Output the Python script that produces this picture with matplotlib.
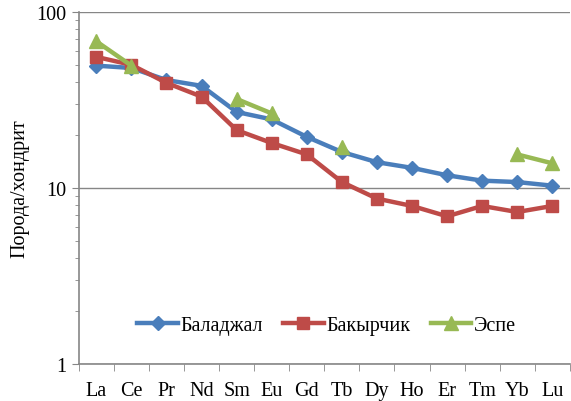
import numpy as np
import matplotlib.pyplot as plt
from matplotlib.ticker import LogLocator, NullFormatter, FixedLocator

elements = ["La", "Ce", "Pr", "Nd", "Sm", "Eu", "Gd", "Tb", "Dy", "Ho", "Er", "Tm", "Yb", "Lu"]
baladzhal = [49.5, 48, 41, 38, 27, 24.5, 19.5, 16, 14, 13, 11.8, 11, 10.8, 10.3]
bakyrchik = [55.5, 50, 39.5, 33, 21.3, 18, 15.5, 10.8, 8.7, 7.9, 6.9, 7.9, 7.3, 7.9]
espe = [68, 49.5, np.nan, np.nan, 32, 26.5, np.nan, 17, np.nan, np.nan, np.nan, np.nan, 15.5, 13.8]

plt.rcParams['font.family'] = 'serif'
plt.rcParams['font.serif'] = ['Liberation Serif', 'DejaVu Serif']
fig = plt.figure(figsize=(5.71, 4.02), dpi=100)
ax = fig.add_axes([0.138, 0.092, 0.86, 0.876])

x = np.arange(len(elements))
ax.plot(x, baladzhal, color="#4A7EBB", lw=3.2, marker="D", ms=7.5, label="Баладжал")
ax.plot(x, bakyrchik, color="#BE4B48", lw=3.2, marker="s", ms=9, label="Бакырчик")
ax.plot(x, espe, color="#98B954", lw=3.2, marker="^", ms=10, label="Эспе")

ax.set_yscale("log")
ax.set_ylim(1, 100)
ax.set_xlim(-0.5, len(elements) - 0.5)
ax.set_yticks([1, 10, 100])
ax.set_yticklabels(["1", "10", "100"])
ax.yaxis.set_minor_locator(LogLocator(base=10, subs=np.arange(2, 10)))
ax.yaxis.set_minor_formatter(NullFormatter())
ax.set_xticks(x)
ax.set_xticklabels(elements)
ax.xaxis.set_minor_locator(FixedLocator(np.arange(-0.5, len(elements), 1)))
ax.tick_params(axis="x", which="major", length=0, pad=12, labelsize=14.5)
ax.tick_params(axis="x", which="minor", length=5, color="#868686", direction="out")
ax.tick_params(axis="y", which="major", length=5, color="#868686", labelsize=14.5, pad=4)
ax.tick_params(axis="y", which="minor", length=3, color="#868686")

ax.grid(axis="y", which="major", color="#868686", lw=1)
ax.set_axisbelow(True)
for s in ["top", "right"]:
    ax.spines[s].set_visible(False)
for s in ["left", "bottom"]:
    ax.spines[s].set_color("#868686")
    ax.spines[s].set_linewidth(1.2)

ax.set_ylabel("Порода/хондрит", fontsize=14.5, labelpad=5)
ax.legend(loc="lower center", bbox_to_anchor=(0.505, 0.03), ncol=3, frameon=False,
          fontsize=14.5, handlelength=2.0, handletextpad=0.15, columnspacing=1.0)

fig.savefig("out.png", dpi=100)
